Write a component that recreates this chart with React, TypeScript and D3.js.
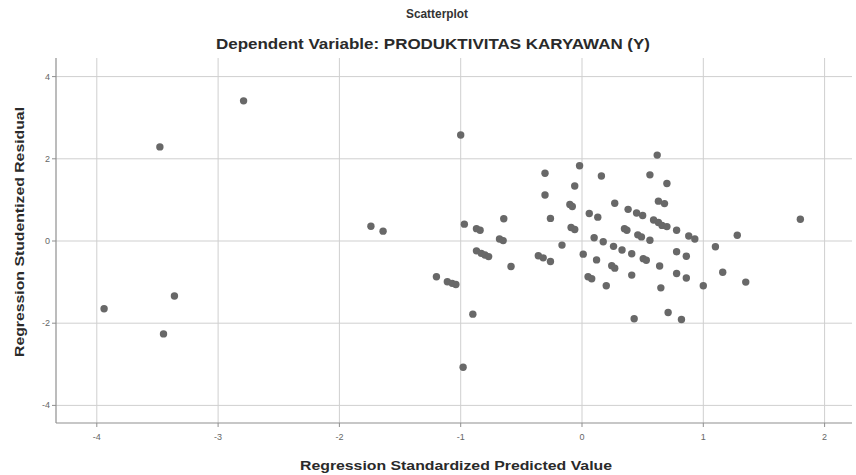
import { scaleLinear } from 'd3';

const predicted = [
  -3.94, -3.48, -3.36, -3.45, -2.79, -1.74, -1.64, -1.2, -1.11, -1.07, -1.04, -1.0, -0.97, -0.98, -0.9,
  -0.87, -0.84, -0.87, -0.83, -0.8, -0.77, -0.68, -0.65, -0.645, -0.585, -0.36, -0.32, -0.26, -0.305,
  -0.305, -0.26, -0.165, -0.1, -0.08, -0.09, -0.06, -0.06, -0.02, 0.01, 0.05, 0.08, 0.06, 0.13, 0.1,
  0.175, 0.12, 0.16, 0.2, 0.245, 0.27, 0.26, 0.33, 0.41, 0.27, 0.35, 0.37, 0.38, 0.45, 0.5, 0.41, 0.43,
  0.46, 0.49, 0.505, 0.53, 0.56, 0.56, 0.59, 0.63, 0.66, 0.7, 0.62, 0.63, 0.68, 0.64, 0.65, 0.7, 0.71,
  0.78, 0.78, 0.86, 0.78, 0.86, 0.82, 0.88, 0.93, 1.0, 1.1, 1.16, 1.28, 1.35, 1.8,
];

const residual = [
  -1.65, 2.29, -1.34, -2.26, 3.41, 0.36, 0.24, -0.87, -0.99, -1.03, -1.06, 2.58, 0.41, -3.07, -1.78,
  0.3, 0.26, -0.24, -0.3, -0.34, -0.38, 0.05, 0.01, 0.54, -0.62, -0.36, -0.41, -0.5, 1.65,
  1.12, 0.55, -0.1, 0.89, 0.84, 0.33, 0.28, 1.34, 1.83, -0.32, -0.87, -0.92, 0.67, 0.58, 0.08,
  -0.02, -0.46, 1.58, -1.09, -0.6, -0.66, -0.13, -0.22, -0.31, 0.92, 0.3, 0.26, 0.77, 0.68, 0.62, -0.83, -1.89,
  0.15, 0.1, -0.43, -0.47, 0.02, 1.61, 0.51, 0.45, 0.38, 0.35, 2.09, 0.97, 0.91, -0.61, -1.14, 1.4, -1.74,
  0.26, -0.26, -0.37, -0.79, -0.9, -1.91, 0.12, 0.05, -1.09, -0.14, -0.76, 0.14, -1.0, 0.53,
];

const xTicks = [-4, -3, -2, -1, 0, 1, 2];
const yTicks = [-4, -2, 0, 2, 4];

const title = 'Scatterplot';
const subtitle = 'Dependent Variable: PRODUKTIVITAS KARYAWAN (Y)';
const xTitle = 'Regression Standardized Predicted Value';
const yTitle = 'Regression Studentized Residual';

export default function App() {
  const width = 856;
  const height = 475;
  const plot = { left: 56, right: 852, top: 58, bottom: 423 };

  const xScale = scaleLinear().domain([-4, 2]).range([96.8, 824.6]);
  const yScale = scaleLinear().domain([-4, 4]).range([405.4, 76.6]);
  const font = 'Arial, "Liberation Sans", sans-serif';

  return (
    <div style={{ position: 'fixed', left: 0, top: 0, background: '#fff' }}>
      <svg width={width} height={height} viewBox={`0 0 ${width} ${height}`} style={{ display: 'block' }}>
        <rect width={width} height={height} fill="#fff" />

        <text x={437} y={18} textAnchor="middle" fontFamily={font} fontSize={13} fontWeight="bold" fill="#333"
          textLength={62} lengthAdjust="spacingAndGlyphs">
          {title}
        </text>
        <text x={433} y={49} textAnchor="middle" fontFamily={font} fontSize={14} fontWeight="bold" fill="#2a2a2a"
          textLength={434} lengthAdjust="spacingAndGlyphs">
          {subtitle}
        </text>

        {/* grid */}
        {xTicks.map((t) => (
          <line key={`gx${t}`} x1={xScale(t)} x2={xScale(t)} y1={plot.top} y2={plot.bottom} stroke="#cfcfcf" strokeWidth={1} />
        ))}
        {yTicks.map((t) => (
          <line key={`gy${t}`} x1={plot.left} x2={plot.right} y1={yScale(t)} y2={yScale(t)} stroke="#cfcfcf" strokeWidth={1} />
        ))}

        {/* axes */}
        <line x1={plot.left} x2={plot.left} y1={plot.top} y2={plot.bottom} stroke="#8f8f8f" strokeWidth={1.2} />
        <line x1={plot.left} x2={plot.right} y1={plot.bottom} y2={plot.bottom} stroke="#8f8f8f" strokeWidth={1.2} />

        {xTicks.map((t) => (
          <g key={`tx${t}`}>
            <line x1={xScale(t)} x2={xScale(t)} y1={plot.bottom} y2={plot.bottom + 4} stroke="#8f8f8f" />
            <text x={xScale(t)} y={440} textAnchor="middle" fontFamily={font} fontSize={9} fill="#666">
              {t}
            </text>
          </g>
        ))}
        {yTicks.map((t) => (
          <g key={`ty${t}`}>
            <line x1={plot.left - 4} x2={plot.left} y1={yScale(t)} y2={yScale(t)} stroke="#8f8f8f" />
            <text x={50} y={yScale(t) + 3} textAnchor="end" fontFamily={font} fontSize={9} fill="#666">
              {t}
            </text>
          </g>
        ))}

        {predicted.map((v, i) => (
          <circle key={i} cx={xScale(v)} cy={yScale(residual[i])} r={3.7} fill="#686868" />
        ))}

        <text x={456} y={470} textAnchor="middle" fontFamily={font} fontSize={13.5} fontWeight="bold" fill="#2a2a2a"
          textLength={312} lengthAdjust="spacingAndGlyphs">
          {xTitle}
        </text>
        <text
          transform={`translate(24, 232) rotate(-90)`}
          textAnchor="middle"
          fontFamily={font}
          fontSize={13.5}
          fontWeight="bold"
          fill="#2a2a2a"
          textLength={250}
          lengthAdjust="spacingAndGlyphs"
        >
          {yTitle}
        </text>
      </svg>
    </div>
  );
}
